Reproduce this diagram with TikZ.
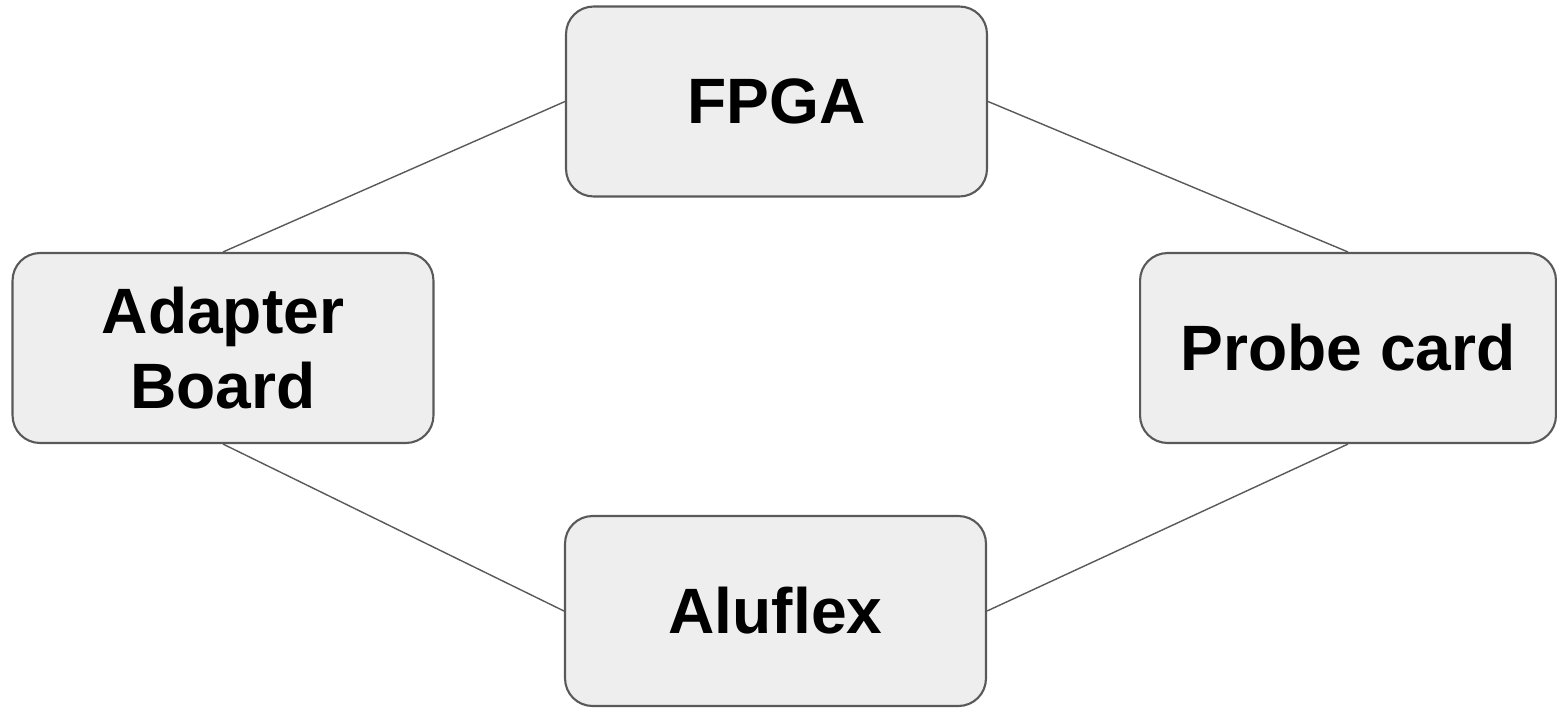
\documentclass[tikz,border=0pt]{standalone}
\usepackage{fontspec}
\setmainfont{Liberation Sans}
\usepackage{xcolor}
\definecolor{boxfill}{HTML}{EEEEEE}
\definecolor{boxline}{HTML}{595959}
\usetikzlibrary{positioning}
\tikzset{
part/.style={draw=boxline,fill=boxfill,line width=1.2pt,rounded corners=0.55cm,
  minimum width=8.42cm,minimum height=3.8cm,align=center,
  font=\fontsize{36.5}{42.5}\selectfont\bfseries},
link/.style={draw=boxline,line width=0.8pt}
}
\begin{document}
\begin{tikzpicture}[x=0.02cm,y=-0.02cm]
\useasboundingbox(0,0)rectangle(1557,707);
\node[part](fpga)at(776.5,101.5){FPGA};
\node[part](adapter)at(223,348){Adapter\\Board};
\node[part,minimum width=8.32cm](probe)at(1348,348){Probe card};
\node[part](aluflex)at(775.5,611){Aluflex};
\draw[link](fpga.west)--(adapter.north);
\draw[link](fpga.east)--(probe.north);
\draw[link](adapter.south)--(aluflex.west);
\draw[link](aluflex.east)--(probe.south);
\end{tikzpicture}
\end{document}
